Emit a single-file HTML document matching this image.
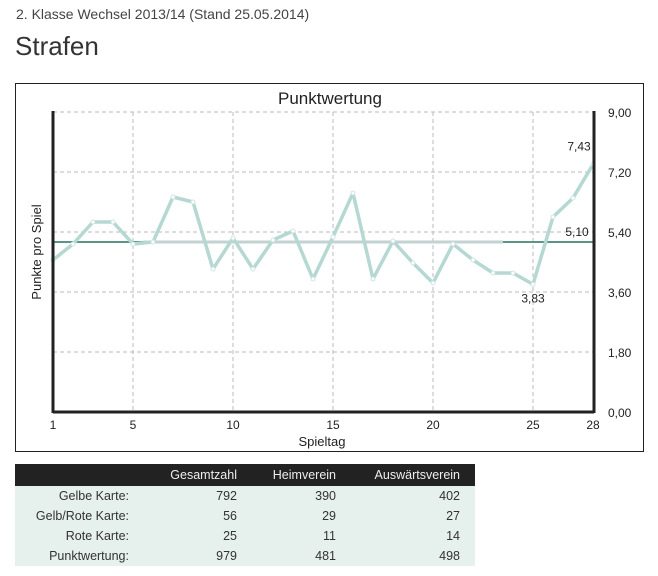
<!DOCTYPE html>
<html><head><meta charset="utf-8"><style>
body{margin:0;width:658px;height:576px;background:#fff;font-family:"Liberation Sans",sans-serif;color:#333;position:relative;overflow:hidden}
.a{position:absolute;white-space:nowrap}
table{position:absolute;left:15px;top:464px;width:460px;border-collapse:collapse;font-size:12.5px;table-layout:fixed}
th{background:#222;color:#eee;font-weight:normal;height:22px;text-align:right;padding:0}
td{background:#e6f0ed;height:20px;text-align:right;padding:0;color:#333}
th:last-child,td:last-child{padding-right:15px}
</style></head><body>
<div class="a" style="left:16px;top:6px;font-size:14px;color:#444">2. Klasse Wechsel 2013/14 (Stand 25.05.2014)</div>
<div class="a" style="left:15px;top:31px;font-size:26px;color:#333">Strafen</div>
<svg class="a" style="left:0;top:0" width="658" height="460" font-family="Liberation Sans, sans-serif">
<rect x="15.5" y="83.5" width="628" height="368" fill="#fff" stroke="#222"/>
<text x="330" y="104" text-anchor="middle" font-size="17" fill="#222">Punktwertung</text>
<text transform="translate(41,252) rotate(-90)" text-anchor="middle" font-size="13" fill="#222">Punkte pro Spiel</text>
<text x="322" y="446" text-anchor="middle" font-size="13" fill="#222">Spieltag</text>
<g id="grid"></g><g id="series"></g><g id="axes"></g>
</svg>
<table>
<colgroup><col style="width:114px"><col style="width:108px"><col style="width:99px"><col style="width:139px"></colgroup>
<tr><th></th><th>Gesamtzahl</th><th>Heimverein</th><th>Auswärtsverein</th></tr>
<tr><td>Gelbe Karte:</td><td>792</td><td>390</td><td>402</td></tr>
<tr><td>Gelb/Rote Karte:</td><td>56</td><td>29</td><td>27</td></tr>
<tr><td>Rote Karte:</td><td>25</td><td>11</td><td>14</td></tr>
<tr><td>Punktwertung:</td><td>979</td><td>481</td><td>498</td></tr>
</table>
<script>
const days=[1,2,3,4,5,6,7,8,9,10,11,12,13,14,15,16,17,18,19,20,21,22,23,24,25,26,27,28];
const values=[4.56,5.04,5.70,5.70,5.04,5.10,6.45,6.30,4.29,5.22,4.29,5.16,5.43,3.99,5.25,6.57,3.99,5.13,4.47,3.87,5.04,4.56,4.17,4.17,3.83,5.85,6.42,7.43];
const average=5.10;
const yTicks=[0,1.8,3.6,5.4,7.2,9];
const xTicks=[1,5,10,15,20,25,28];
const NS="http://www.w3.org/2000/svg";
const X=d=>53+(d-1)*20, Y=v=>412-v*300/9;
function mk(p,t,a){const e=document.createElementNS(NS,t);for(const k in a)e.setAttribute(k,a[k]);p.appendChild(e);return e;}
const g=document.getElementById('grid'),s=document.getElementById('series'),ax=document.getElementById('axes');
yTicks.forEach(v=>{
 if(v>0){const l=mk(g,'line',{x1:53,x2:593,y1:Y(v),y2:Y(v),stroke:'#bbb','stroke-dasharray':'4,3'});
 
 }
 const t=mk(ax,'text',{x:608,y:Y(v)+5,'font-size':12,fill:'#222'});t.textContent=v.toFixed(2).replace('.',',');
 
 
});
xTicks.forEach(d=>{
 if(d>1&&d<28){const l=mk(g,'line',{x1:X(d),x2:X(d),y1:112,y2:412,stroke:'#bbb','stroke-dasharray':'4,3'});
 
 }
 const t=mk(ax,'text',{x:X(d),y:429,'text-anchor':'middle','font-size':12,fill:'#222'});t.textContent=d;
 
 
});
let a1=mk(s,'line',{x1:X(1),x2:X(28),y1:Y(average),y2:Y(average),stroke:'#5b9588','stroke-width':2});


let a2=mk(s,'line',{x1:X(5.5),x2:X(23.5),y1:Y(average),y2:Y(average),stroke:'#c3d3d1','stroke-width':3});


const pl=mk(s,'polyline',{points:days.map((d,i)=>X(d)+','+Y(values[i])).join(' '),fill:'none',stroke:'#b5d8d2','stroke-width':3.5,'stroke-linejoin':'round'});


days.forEach((d,i)=>{const c=mk(s,'circle',{cx:X(d),cy:Y(values[i]),r:2,fill:'#fff',stroke:'#cfe5e0','stroke-width':1});
 
 });
const iMax=values.indexOf(Math.max(...values)),iMin=values.indexOf(Math.min(...values));
[[iMax,-14],[iMin,18]].forEach(([i,dy])=>{const t=mk(s,'text',{x:X(days[i])-(i==27?14:0),y:Y(values[i])+dy,'text-anchor':'middle','font-size':12,fill:'#222'});t.textContent=values[i].toFixed(2).replace('.',',');
 
 });
const at=mk(s,'text',{x:X(27.2),y:Y(average)-6,'text-anchor':'middle','font-size':12,fill:'#222'});at.textContent=average.toFixed(2).replace('.',',');


[[53,111,53,413],[53,412,594,412],[594,111,594,413]].forEach(p=>{const l=mk(ax,'line',{x1:p[0],y1:p[1],x2:p[2],y2:p[3],stroke:'#222','stroke-width':3});
 
 });
</script>
</body></html>
